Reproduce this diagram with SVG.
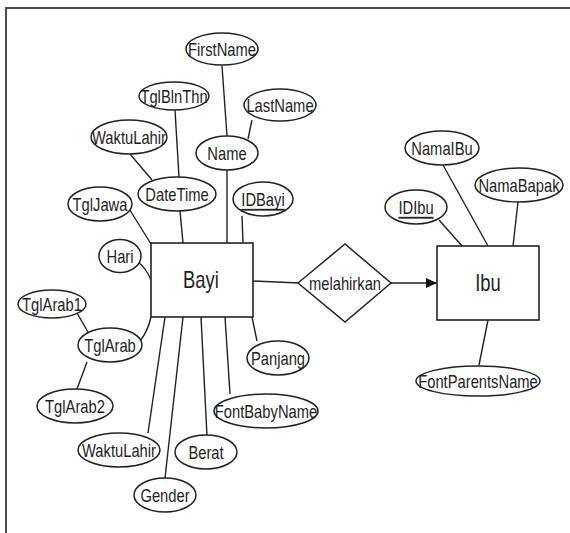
<svg xmlns="http://www.w3.org/2000/svg" width="570" height="533" viewBox="0 0 570 533">
<style>
.frame{stroke:#4a4a4a;stroke-width:2;fill:none}
.ent{fill:#fff;stroke:#222;stroke-width:1.6}
.att{fill:#fff;stroke:#222;stroke-width:1.5}
.rel{fill:#fff;stroke:#222;stroke-width:1.5}
.lk{stroke:#222;stroke-width:1.4;fill:none}
text{font-family:"Liberation Sans",Arial,sans-serif;fill:#1e1e1e;text-anchor:middle;dominant-baseline:central}
.t{font-size:18px}
.et{font-size:23px}
.u{text-decoration:underline}
</style>
<defs>
<marker id="arr" markerWidth="12" markerHeight="10" refX="11" refY="5" orient="auto" markerUnits="userSpaceOnUse">
<path d="M0,0 L11,5 L0,10 Z" fill="#111"/>
</marker>
</defs>
<rect width="570" height="533" fill="#fff"/>
<path class="frame" d="M6,533 V8 H570"/>
<g id="connectors">
<line class="lk" x1="222" y1="66" x2="227" y2="136"/>
<line class="lk" x1="252" y1="120" x2="248" y2="139"/>
<line class="lk" x1="175" y1="110" x2="179" y2="177"/>
<line class="lk" x1="130" y1="154" x2="152" y2="180"/>
<line class="lk" x1="227" y1="170" x2="227" y2="243"/>
<line class="lk" x1="180" y1="211" x2="183" y2="243"/>
<line class="lk" x1="242" y1="216" x2="243" y2="243"/>
<line class="lk" x1="128" y1="207" x2="151" y2="244"/>
<path class="lk" d="M138,262 Q146,268 151,280"/>
<path class="lk" d="M140,341 Q148,331 151,317"/>
<line class="lk" x1="77" y1="313" x2="88" y2="332"/>
<line class="lk" x1="77" y1="389" x2="87" y2="362"/>
<line class="lk" x1="165" y1="317" x2="148" y2="433"/>
<line class="lk" x1="183" y1="317" x2="165" y2="478"/>
<line class="lk" x1="201" y1="317" x2="207" y2="436"/>
<line class="lk" x1="225" y1="317" x2="230" y2="394"/>
<line class="lk" x1="252" y1="317" x2="257" y2="341"/>
<line class="lk" x1="253" y1="281" x2="299" y2="283"/>
<line class="lk" x1="391" y1="283" x2="437" y2="283" marker-end="url(#arr)"/>
<line class="lk" x1="439" y1="220" x2="462" y2="246"/>
<line class="lk" x1="443" y1="165" x2="488" y2="246"/>
<line class="lk" x1="518" y1="202" x2="513" y2="246"/>
<line class="lk" x1="488" y1="320" x2="479" y2="365"/>
</g>
<g id="Bayi"><rect class="ent" x="151" y="243" width="102" height="74"/><text class="et" transform="translate(201,280) scale(0.8,1)">Bayi</text></g>
<g id="Ibu"><rect class="ent" x="437" y="246" width="102" height="74"/><text class="et" transform="translate(488,283) scale(0.8,1)">Ibu</text></g>
<g id="melahirkan"><polygon class="rel" points="298,283 345,244 391,283 345,322"/><text class="t" transform="translate(345,283) scale(0.82,1)">melahirkan</text></g>
<g id="FirstName"><ellipse class="att" cx="222" cy="49" rx="36" ry="16"/><text class="t" transform="translate(222,49) scale(0.82,1)">FirstName</text></g>
<g id="TglBlnThn"><ellipse class="att" cx="174" cy="96" rx="35" ry="14"/><text class="t" transform="translate(174,96) scale(0.82,1)">TglBlnThn</text></g>
<g id="LastName"><ellipse class="att" cx="280" cy="105" rx="36" ry="16"/><text class="t" transform="translate(280,105) scale(0.82,1)">LastName</text></g>
<g id="WaktuLahir1"><ellipse class="att" cx="129" cy="137" rx="38" ry="17"/><text class="t" transform="translate(129,137) scale(0.82,1)">WaktuLahir</text></g>
<g id="Name"><ellipse class="att" cx="227" cy="153" rx="31" ry="17"/><text class="t" transform="translate(227,153) scale(0.82,1)">Name</text></g>
<g id="DateTime"><ellipse class="att" cx="177" cy="194" rx="39" ry="17"/><text class="t" transform="translate(177,194) scale(0.82,1)">DateTime</text></g>
<g id="IDBayi"><ellipse class="att" cx="263" cy="199" rx="30" ry="17"/><text class="t u" transform="translate(263,199) scale(0.82,1)">IDBayi</text></g>
<g id="TglJawa"><ellipse class="att" cx="100" cy="204" rx="32" ry="17"/><text class="t" transform="translate(100,204) scale(0.82,1)">TglJawa</text></g>
<g id="Hari"><ellipse class="att" cx="120" cy="256" rx="21" ry="16.5"/><text class="t" transform="translate(120,256) scale(0.82,1)">Hari</text></g>
<g id="TglArab1"><ellipse class="att" cx="52" cy="304" rx="34" ry="14"/><text class="t" transform="translate(52,304) scale(0.82,1)">TglArab1</text></g>
<g id="TglArab"><ellipse class="att" cx="110" cy="345" rx="32" ry="17"/><text class="t" transform="translate(110,345) scale(0.82,1)">TglArab</text></g>
<g id="TglArab2"><ellipse class="att" cx="75" cy="406" rx="38" ry="17"/><text class="t" transform="translate(75,406) scale(0.82,1)">TglArab2</text></g>
<g id="Panjang"><ellipse class="att" cx="278" cy="358" rx="31" ry="17"/><text class="t" transform="translate(278,358) scale(0.82,1)">Panjang</text></g>
<g id="FontBabyName"><ellipse class="att" cx="266" cy="411" rx="52" ry="17"/><text class="t" transform="translate(266,411) scale(0.82,1)">FontBabyName</text></g>
<g id="WaktuLahir2"><ellipse class="att" cx="119" cy="450" rx="41" ry="17"/><text class="t" transform="translate(119,450) scale(0.82,1)">WaktuLahir</text></g>
<g id="Berat"><ellipse class="att" cx="206" cy="452" rx="31" ry="17"/><text class="t" transform="translate(206,452) scale(0.82,1)">Berat</text></g>
<g id="Gender"><ellipse class="att" cx="165" cy="495" rx="31" ry="17"/><text class="t" transform="translate(165,495) scale(0.82,1)">Gender</text></g>
<g id="NamaIBu"><ellipse class="att" cx="442" cy="148" rx="37" ry="17"/><text class="t" transform="translate(442,148) scale(0.82,1)">NamaIBu</text></g>
<g id="NamaBapak"><ellipse class="att" cx="519" cy="185" rx="44" ry="17"/><text class="t" transform="translate(519,185) scale(0.82,1)">NamaBapak</text></g>
<g id="IDIbu"><ellipse class="att" cx="416" cy="207" rx="31" ry="17"/><text class="t u" transform="translate(416,207) scale(0.82,1)">IDIbu</text></g>
<g id="FontParentsName"><ellipse class="att" cx="478" cy="381" rx="62" ry="15"/><text class="t" transform="translate(478,381) scale(0.82,1)">FontParentsName</text></g>
</svg>
